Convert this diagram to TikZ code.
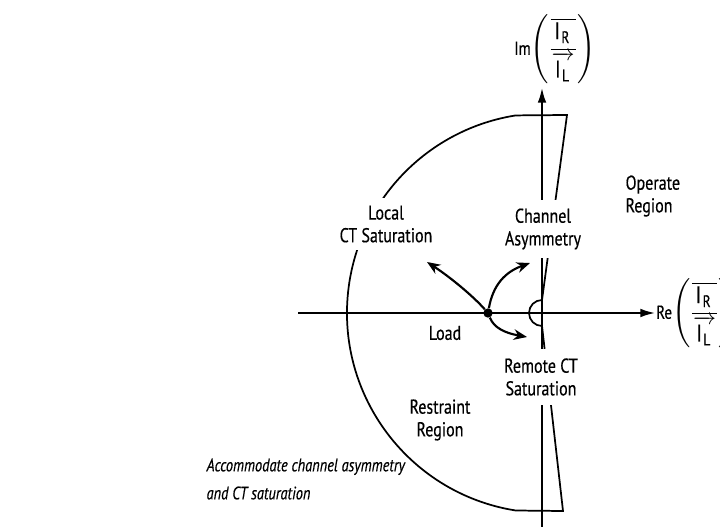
\documentclass[tikz,border=0pt]{standalone}
\usepackage{amsmath}
\usepackage{fontspec}
\setmainfont[FakeStretch=0.8,FakeBold=0.4]{PT Sans}
\usetikzlibrary{arrows.meta}
\begin{document}
\begin{tikzpicture}[x=0.75pt,y=-0.75pt,
  lbl/.style={font=\fontsize{15}{17}\selectfont, align=center, inner sep=1pt},
  wlbl/.style={lbl, fill=white},
  bnd/.style={line width=1.3pt},
  axisline/.style={line width=1.3pt, -{Latex[length=11pt,width=6.5pt]}},
  mv/.style={line width=1.6pt, -{Stealth[length=10pt,width=8pt]}},
  mathlbl/.style={font=\fontsize{18}{20}\selectfont, inner sep=0pt},
]
\useasboundingbox (0,0) rectangle (720,527);

\coordinate (xs) at (298,313);
\coordinate (xe) at (655,313);
\coordinate (ys) at (542,527);
\coordinate (ye) at (542,88);

% boundary of restraint region
\draw[bnd] (567,115) -- (542,300) arc[start angle=270,end angle=90,radius=13]
  -- (563,511) -- (515.7,510.5) arc[start angle=99,end angle=261,radius=200] -- cycle;

% axes
\draw[axisline] (xs) -- (xe);
\draw[axisline] (ys) -- (ye);

% labels that break the lines
\node[wlbl, inner xsep=3pt, inner ysep=6pt] (local) at (386,224) {Local\\CT Saturation};
\node[wlbl, inner xsep=3pt, inner ysep=6pt] (chan) at (543,229) {Channel\\Asymmetry};
\node[wlbl, inner xsep=3pt, inner ysep=7pt] (remote) at (541,377) {Remote CT\\Saturation};

% load point and trajectories
\node[circle, fill, inner sep=0pt, minimum size=7pt] (load) at (488,313) {};
\coordinate (tl) at (427,262);
\coordinate (tr) at (530,263);
\coordinate (br) at (527,337);
\draw[mv] (load) .. controls (473,296) and (450,277) .. (tl);
\draw[mv] (load) .. controls (493,285) and (505,272) .. (tr);
\draw[mv] (load) .. controls (494,328) and (505,333) .. (br);

\node[lbl] (loadlbl) at (445,333) {Load};
\node[lbl, align=left, anchor=west] (op) at (624,196) {Operate\\Region};
\node[lbl] (rest) at (440,420) {Restraint\\Region};
\node[lbl, align=left, anchor=west, font=\fontsize{13.5}{21}\itshape] (note) at (205,479) {Accommodate channel asymmetry\\and CT saturation};

% axis labels
\node[mathlbl] (im) at (555,49) {{\fontsize{14}{16}\selectfont Im}$\left(\dfrac{\overline{\,\mathrm{I}_{\mathrm{R}}\,}\rule[-3pt]{0pt}{15pt}}{\overrightarrow{\mathrm{I}_{\mathrm{L}}}\rule{0pt}{15pt}}\right)$};
\node[mathlbl, anchor=west] (re) at (656,313) {{\fontsize{14}{16}\selectfont Re}$\left(\dfrac{\overline{\,\mathrm{I}_{\mathrm{R}}\,}\rule[-3pt]{0pt}{15pt}}{\overrightarrow{\mathrm{I}_{\mathrm{L}}}\rule{0pt}{15pt}}\right)$};
\end{tikzpicture}
\end{document}
